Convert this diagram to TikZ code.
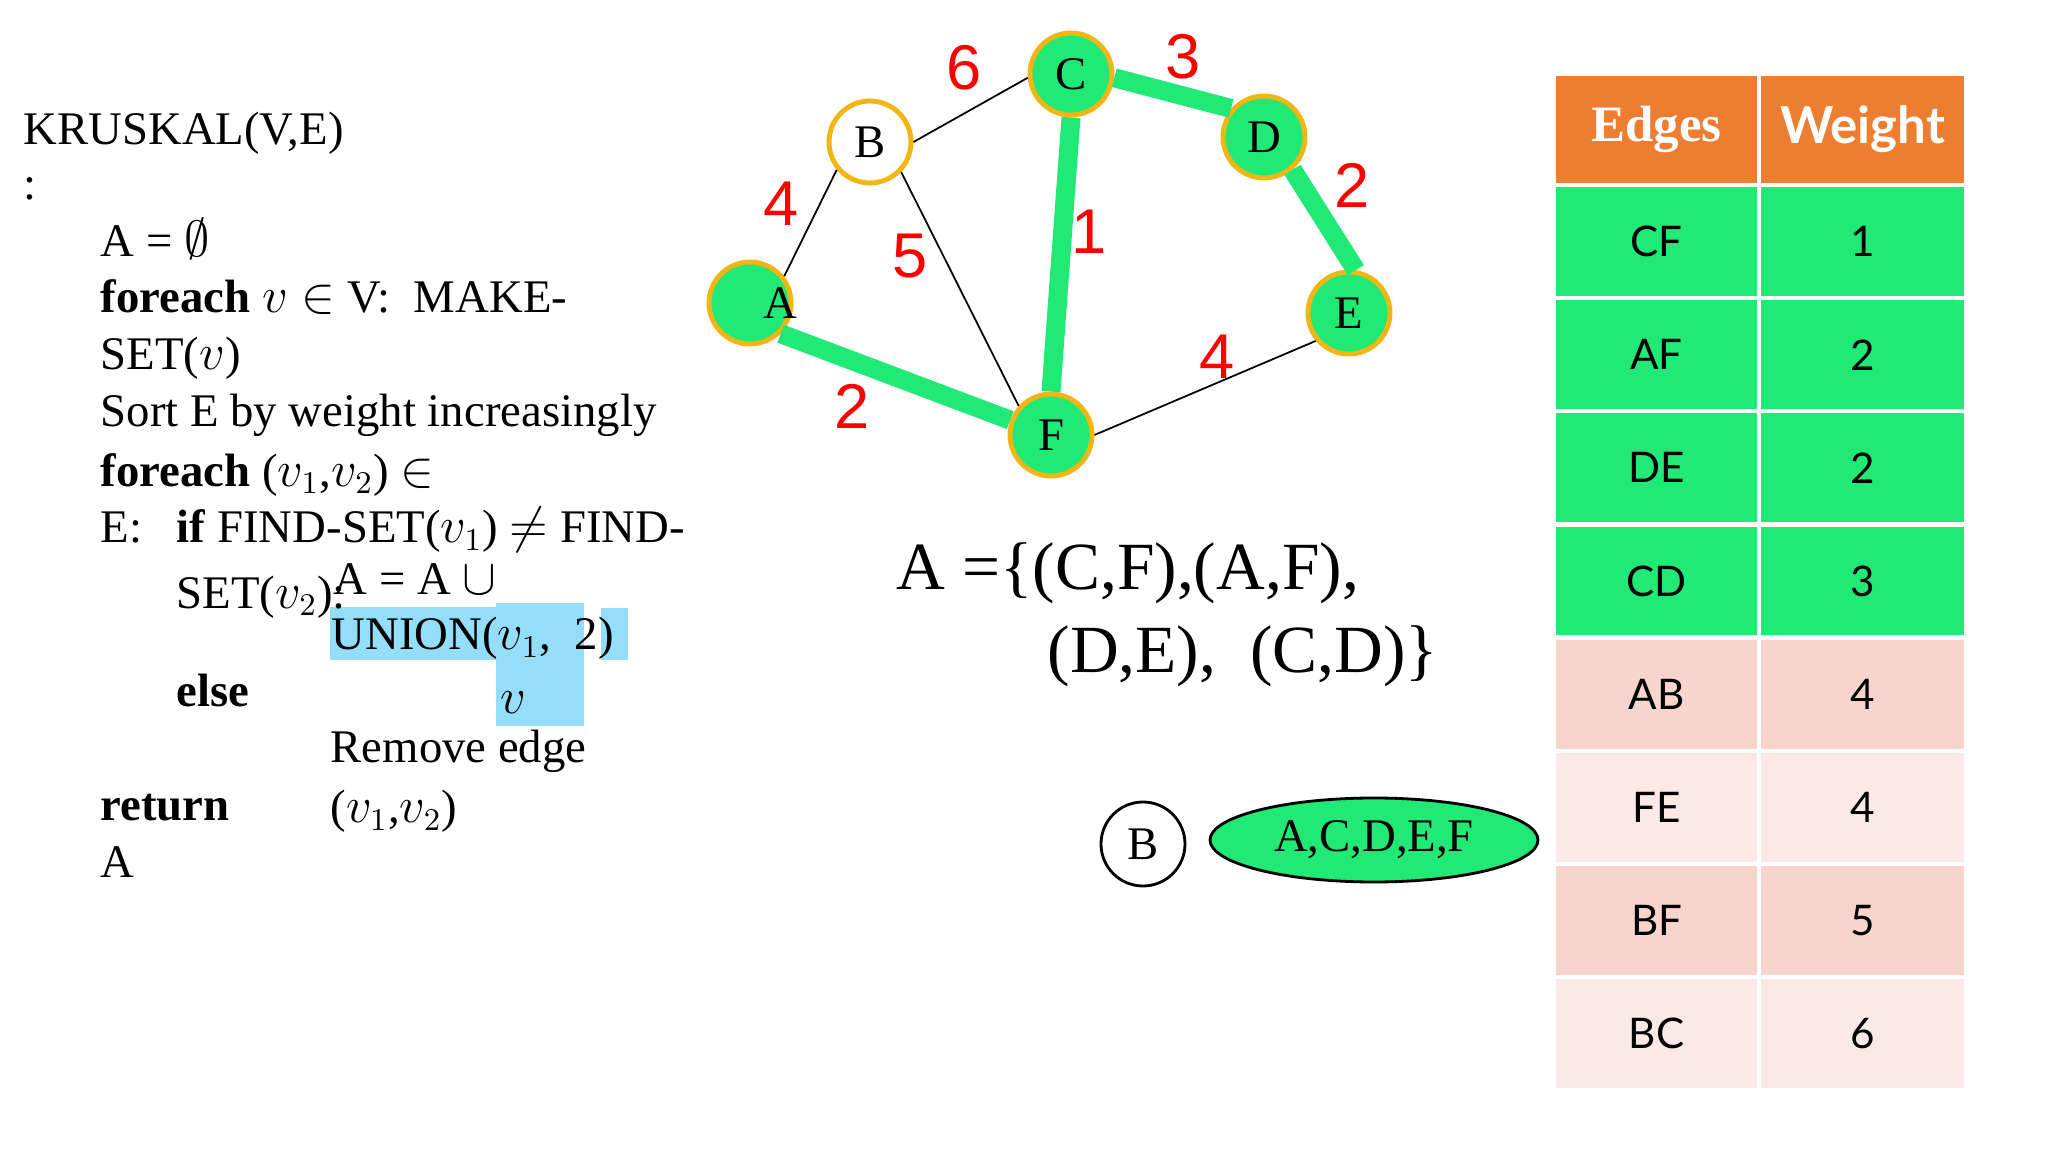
\documentclass[tikz,border=0pt]{standalone}
\usepackage{fontspec}
\setmainfont{Liberation Serif}
\newfontfamily\tabfont{Lato}
\newfontfamily\numfont{Liberation Sans}
\usepackage{xcolor}
\usetikzlibrary{positioning,shapes.geometric}
\definecolor{mstgreen}{RGB}{32,233,118}
\definecolor{ringgold}{RGB}{242,182,20}
\definecolor{hdorange}{RGB}{237,125,49}
\definecolor{rowpink}{RGB}{248,213,204}
\definecolor{rowlight}{RGB}{251,233,229}
\definecolor{hlblue}{RGB}{148,222,250}

\begin{document}
\begin{tikzpicture}[x=1cm, y=-1cm, font=\fontsize{13.3}{16}\selectfont, node distance=0pt,
  code/.style={anchor=base west, inner sep=0pt},
  vert/.style={circle, draw=ringgold, line width=1.4pt, fill=mstgreen, minimum size=8.2mm, inner sep=0pt},
  wt/.style={text=red, font=\numfont\fontsize{18}{20}\selectfont},
  tree/.style={draw=mstgreen, line width=5.4pt},
  plain/.style={draw=black, line width=0.5pt},
  setx/.style={anchor=base west, inner sep=0pt, font=\fontsize{19.2}{22}\selectfont},
  cell/.style={draw=white, line width=0.6pt, minimum width=2.03cm, minimum height=1.11cm, inner sep=0pt, font=\tabfont\fontsize{12}{14}\selectfont},
  wcell/.style={minimum width=2.05cm},
  hcell/.style={cell, fill=hdorange, text=white, minimum height=1.09cm},
  done/.style={cell, fill=mstgreen}, skipa/.style={cell, fill=rowpink}, skipb/.style={cell, fill=rowlight}]
\useasboundingbox[fill=white] (0,0) rectangle (20.48,11.52);

\fill[hlblue] (3.30,6.07) rectangle (4.97,6.60);
\fill[hlblue] (4.96,6.03) rectangle (5.84,7.26);
\fill[hlblue] (6.01,6.08) rectangle (6.28,6.60);

\node[code] (title) at (0.23,1.45) {KRUSKAL(V,E)};
\node[code] (colon) at (0.23,2.00) {:};
\node[code] (init) at (1.00,2.57) {A = $\emptyset$};
\node[code] (loopv) at (1.00,3.13) {\textbf{foreach} $v\in$ V:\ \ MAKE-};
\node[code] (mkset) at (1.00,3.70) {SET($v$)};
\node[code] (sort) at (1.00,4.27) {Sort E by weight increasingly};
\node[code] (loope) at (1.00,4.86) {\textbf{foreach} ($v_1$,$v_2$) $\in$};
\node[code] (ein) at (1.00,5.43) {E:};
\node[code] (cond) at (1.76,5.43) {\textbf{if} FIND-SET($v_1$) $\neq$ FIND-};
\node[code] (cond2) at (1.76,6.08) {SET($v_2$):};
\node[code] (add) at (3.33,5.95) {A = A $\cup$};
\node[code] (union) at (3.31,6.50) {UNION($v_1$,\ \ 2)};
\node[code] (unionv) at (5.00,7.13) {$v$};
\node[code] (els) at (1.76,7.07) {\textbf{else}};
\node[code] (rm) at (3.30,7.63) {Remove edge};
\node[code] (rm2) at (3.30,8.23) {($v_1$,$v_2$)};
\node[code] (ret) at (1.00,8.20) {\textbf{return}};
\node[code] (res) at (1.00,8.77) {A};

\node[vert, label={[xshift=3mm]center:A}] (A) at (7.50,3.03) {};
\node[vert, fill=white] (B) at (8.70,1.42) {B};
\node[vert] (C) at (10.71,0.74) {C};
\node[vert] (D) at (12.64,1.37) {D};
\node[vert] (E) at (13.49,3.13) {E};
\node[vert] (F) at (10.51,4.35) {F};
\draw[tree] (C.south) -- (F.north); \draw[tree] (A.-45) -- (F.160);
\draw[tree] (C.-5) -- (D.139); \draw[tree] (D.-49) -- (E.81);
\draw[plain] (A.38) -- (B.220); \draw[plain] (B.east) -- (C.185);
\draw[plain] (B.-44) -- (F.138); \draw[plain] (F.east) -- (E.220);
\node[wt] (wbc) at (9.64,0.68) {6};
\node[wt] (wcd) at (11.83,0.57) {3};
\node[wt] (wab) at (7.81,2.04) {4};
\node[wt] (wbf) at (9.10,2.56) {5};
\node[wt] (wcf) at (10.89,2.32) {1};
\node[wt] (wde) at (13.52,1.85) {2};
\node[wt] (waf) at (8.52,4.06) {2};
\node[wt] (wfe) at (12.17,3.57) {4};

\node[setx] (mst1) at (8.96,5.90) {A =\{(C,F),(A,F),};
\node[setx] (mst2) at (10.47,6.72) {(D,E),\ \ (C,D)\}};

\node[circle, draw, line width=0.8pt, minimum size=8.4mm, inner sep=0pt] (setb) at (11.43,8.44) {B};
\node[ellipse, draw, line width=0.8pt, fill=mstgreen, minimum width=3.28cm, minimum height=8.4mm, inner sep=0pt] (setr) at (13.74,8.40) {A,C,D,E,F};

\node[hcell, anchor=north west, font=\bfseries\fontsize{14.5}{16}\selectfont] (h1) at (15.54,0.74) {Edges};
\node[hcell, wcell, right=of h1, font=\tabfont\bfseries\fontsize{14.5}{16}\selectfont] (h2) {Weight};
\node[done, below=of h1] (e1) {CF}; \node[done, wcell, right=of e1] (w1) {1};
\node[done, below=of e1] (e2) {AF}; \node[done, wcell, right=of e2] (w2) {2};
\node[done, below=of e2] (e3) {DE}; \node[done, wcell, right=of e3] (w3) {2};
\node[done, below=of e3] (e4) {CD}; \node[done, wcell, right=of e4] (w4) {3};
\node[skipa, below=of e4] (e5) {AB}; \node[skipa, wcell, right=of e5] (w5) {4};
\node[skipb, below=of e5] (e6) {FE}; \node[skipb, wcell, right=of e6] (w6) {4};
\node[skipa, below=of e6] (e7) {BF}; \node[skipa, wcell, right=of e7] (w7) {5};
\node[skipb, below=of e7] (e8) {BC}; \node[skipb, wcell, right=of e8] (w8) {6};
\end{tikzpicture}
\end{document}
